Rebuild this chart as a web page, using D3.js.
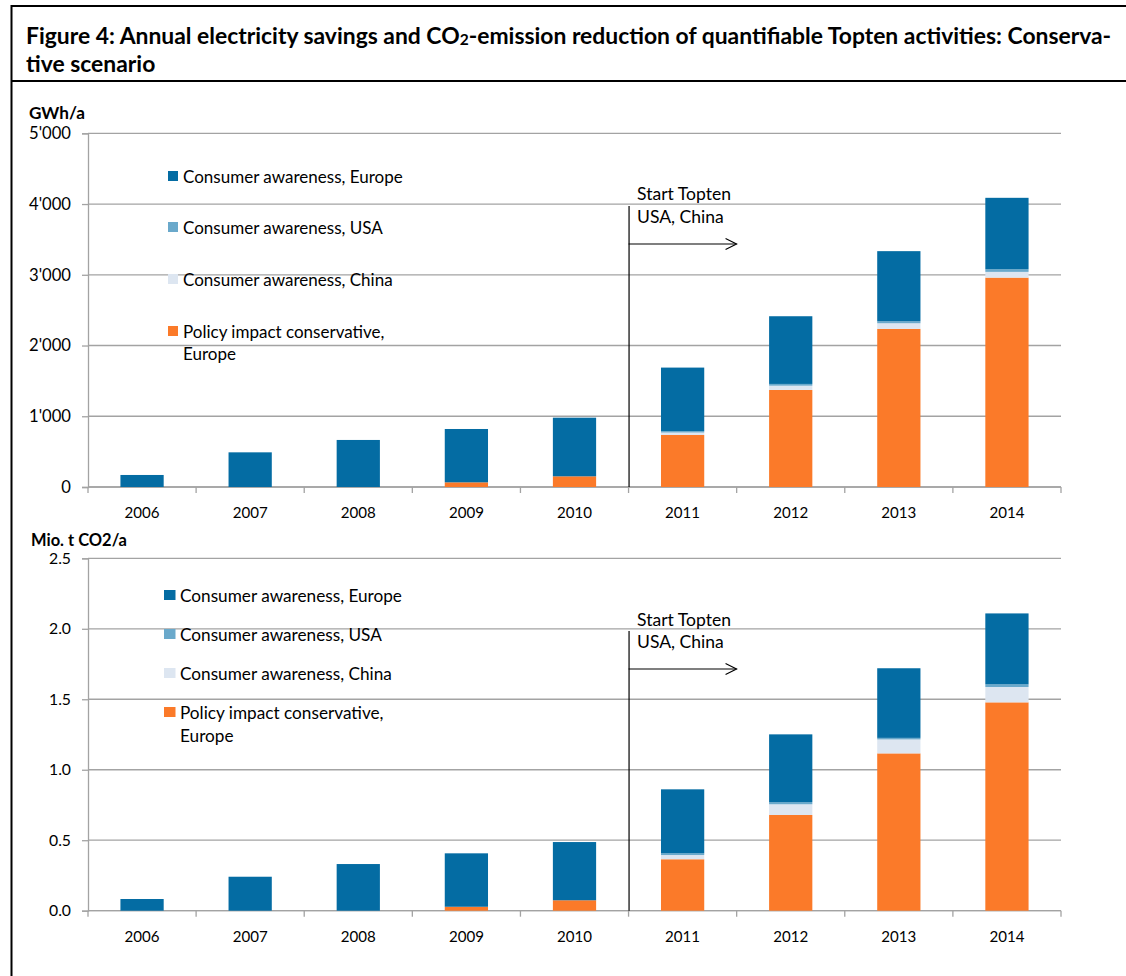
<!DOCTYPE html>
<html><head><meta charset="utf-8">
<script src="https://cdn.jsdelivr.net/npm/d3@7"></script>
<style>body{margin:0;background:#fff}svg{display:block}text{font-family:Lato,"Open Sans",sans-serif;fill:#000}</style>
</head><body>
<svg id="c" width="1126" height="976"></svg>
<script>
// ---------- DATA ----------
const years = ["2006","2007","2008","2009","2010","2011","2012","2013","2014"];
const seriesKeys = ["policy","china","usa","europe"];
const seriesNames = {
  europe: "Consumer awareness, Europe",
  usa: "Consumer awareness, USA",
  china: "Consumer awareness, China",
  policy: ["Policy impact conservative,", "Europe"]
};
const gwhPolicy  = [0, 0, 0, 66, 151, 735, 1372, 2235, 2960];
const gwhChina   = [0, 0, 0, 0, 0, 35, 60, 80, 81];
const gwhUSA     = [0, 0, 0, 0, 0, 20, 25, 28, 38];
const gwhEurope  = [170, 490, 665, 754, 829, 898, 957, 991, 1009];
const co2Policy  = [0, 0, 0, 0.028, 0.074, 0.365, 0.679, 1.116, 1.478];
const co2China   = [0, 0, 0, 0, 0, 0.030, 0.076, 0.099, 0.109];
const co2USA     = [0, 0, 0, 0, 0, 0.012, 0.016, 0.011, 0.019];
const co2Europe  = [0.083, 0.241, 0.331, 0.379, 0.413, 0.454, 0.480, 0.494, 0.503];
const gwhTicks = [0, 1000, 2000, 3000, 4000, 5000];
const co2Ticks = [0, 0.5, 1.0, 1.5, 2.0, 2.5];
const titleLine1 = ["Figure 4: Annual electricity savings and CO", "2", "-emission reduction of quantifiable Topten activities: Conserva-"];
const titleLine2 = "tive scenario";
const annotation = ["Start Topten", "USA, China"];
const startYear = "2011";

// ---------- STYLE ----------
const colors = {europe:"#046ca3", usa:"#6aa9cb", china:"#dde6f1", policy:"#fb7a29"};
const gridColor = "#a3a3a3";

const svg = d3.select("#c");
svg.append("rect").attr("width",1126).attr("height",976).attr("fill","#fff");

function fit(sel, target){
  const n = sel.node(); const fs = parseFloat(sel.attr("font-size"));
  const w = n.getComputedTextLength();
  return fs * target / w;
}

// frame
svg.append("line").attr("x1",11).attr("x2",1126).attr("y1",6).attr("y2",6).attr("stroke","#000").attr("stroke-width",2);
svg.append("line").attr("x1",11).attr("x2",1126).attr("y1",81).attr("y2",81).attr("stroke","#000").attr("stroke-width",2);
svg.append("line").attr("x1",11.5).attr("x2",11.5).attr("y1",5).attr("y2",976).attr("stroke","#000").attr("stroke-width",2);

// title
const t1 = svg.append("text").attr("x",26).attr("y",35).attr("dominant-baseline","central")
  .attr("font-weight","bold").attr("font-size",19);
t1.append("tspan").text(titleLine1[0]);
t1.append("tspan").attr("font-size",13).attr("dy",4).text(titleLine1[1]);
t1.append("tspan").attr("dy",-4).text(titleLine1[2]);
{
  const fs = fit(t1, 1086);
  t1.attr("font-size", fs); t1.select("tspan:nth-child(2)").attr("font-size", fs*0.68);
}
svg.append("text").attr("x",26).attr("y",63).attr("dominant-baseline","central")
  .attr("font-weight","bold").attr("font-size",+t1.attr("font-size")).text(titleLine2);

function drawChart(cfg){
  const x = d3.scaleBand().domain(years).range([88,1061]).paddingInner(0.6).paddingOuter(0.3);
  const y = d3.scaleLinear().domain([cfg.ticks[0], cfg.ticks[cfg.ticks.length-1]]).range([cfg.y0, cfg.yTop]);
  const g = svg.append("g");
  const step = x.step();

  // gridlines
  g.selectAll(".grid").data(cfg.ticks).join("line")
    .attr("x1",88).attr("x2",1061).attr("y1",d=>y(d)).attr("y2",d=>y(d))
    .attr("stroke",gridColor).attr("stroke-width",1.3);
  // y axis
  const yAx = g.append("g").attr("transform","translate(88,0)")
    .call(d3.axisLeft(y).tickValues(cfg.ticks).tickFormat(cfg.fmt).tickSize(6).tickPadding(11));
  yAx.select(".domain").attr("stroke",gridColor).attr("stroke-width",1.3);
  yAx.selectAll(".tick line").attr("stroke",gridColor).attr("stroke-width",1.3);
  yAx.selectAll("text").attr("font-family","Lato").attr("font-size",16).attr("fill","#000");
  {
    const fs = fit(yAx.select(".tick:last-of-type text"), cfg.tickLabelW);
    yAx.selectAll("text").attr("font-size", fs);
  }
  // x axis
  const xb = d3.range(years.length+1).map(i=>88+i*step);
  g.selectAll(".xt").data(xb).join("line")
    .attr("x1",d=>d).attr("x2",d=>d).attr("y1",cfg.y0).attr("y2",cfg.y0+6)
    .attr("stroke",gridColor).attr("stroke-width",1.3);
  g.append("line").attr("x1",88).attr("x2",1061).attr("y1",cfg.y0).attr("y2",cfg.y0)
    .attr("stroke",gridColor).attr("stroke-width",1.3);
  const yl = g.selectAll(".yl").data(years).join("text")
    .attr("x",d=>x(d)+x.bandwidth()/2).attr("y",cfg.y0+25).attr("text-anchor","middle")
    .attr("dominant-baseline","central").attr("font-size",16).text(d=>d);
  { const fs = fit(d3.select(yl.nodes()[0]), 35); yl.attr("font-size",fs); }

  // bars
  const rows = years.map((yr,i)=>({year:yr, policy:cfg.data.policy[i], china:cfg.data.china[i], usa:cfg.data.usa[i], europe:cfg.data.europe[i]}));
  const stacked = d3.stack().keys(seriesKeys)(rows);
  g.selectAll(".s").data(stacked).join("g").attr("fill",d=>colors[d.key])
    .selectAll("rect").data(d=>d).join("rect")
    .attr("x",d=>x(d.data.year)).attr("width",x.bandwidth())
    .attr("y",d=>y(d[1])).attr("height",d=>Math.max(0,y(d[0])-y(d[1])));

  // unit label
  const ul = g.append("text").attr("x",cfg.unitX).attr("y",cfg.unitY).attr("dominant-baseline","central")
    .attr("font-weight","bold").attr("font-size",15).text(cfg.unit);
  ul.attr("font-size", fit(ul, cfg.unitW));

  // legend
  const legOrder = ["europe","usa","china","policy"];
  const lg = g.append("g");
  let legFs = 15;
  legOrder.forEach((k,i)=>{
    const cy = cfg.legY[i];
    lg.append("rect").attr("x",cfg.legSqX).attr("y",cy-cfg.legSqH/2).attr("width",cfg.legSqW).attr("height",cfg.legSqH).attr("fill",colors[k]);
    const nm = seriesNames[k];
    const lines = Array.isArray(nm)?nm:[nm];
    lines.forEach((ln,j)=>{
      lg.append("text").attr("class","lt").attr("x",cfg.legTX).attr("y",cy + j*cfg.legLine)
        .attr("dominant-baseline","central").attr("font-size",legFs).text(ln);
    });
  });
  { const fs = fit(d3.select(lg.selectAll(".lt").nodes()[0]), cfg.legW); lg.selectAll(".lt").attr("font-size",fs); }

  // annotation
  const ax = x(startYear) - (step - x.bandwidth())/2;
  g.append("line").attr("x1",ax+0.5).attr("x2",ax+0.5).attr("y1",cfg.annTop).attr("y2",cfg.y0).attr("stroke","#000").attr("stroke-width",1.2);
  g.append("line").attr("x1",ax).attr("x2",ax+108).attr("y1",cfg.arrowY).attr("y2",cfg.arrowY).attr("stroke","#000").attr("stroke-width",1.2);
  g.append("path").attr("d",`M${ax+97},${cfg.arrowY-5.5}L${ax+108},${cfg.arrowY}L${ax+97},${cfg.arrowY+5.5}`)
    .attr("fill","none").attr("stroke","#000").attr("stroke-width",1.2);
  const at = annotation.map((s,i)=>g.append("text").attr("x",ax+8.5).attr("y",cfg.annY[i])
    .attr("dominant-baseline","central").attr("font-size",15).text(s));
  { const fs = fit(at[0], 94); at.forEach(t=>t.attr("font-size",fs)); }
}

const loc = d3.formatLocale({decimal:".", thousands:"'", grouping:[3], currency:["",""]});

drawChart({
  ticks:gwhTicks, fmt:loc.format(","), y0:487, yTop:133.3, tickLabelW:42,
  data:{policy:gwhPolicy, china:gwhChina, usa:gwhUSA, europe:gwhEurope},
  unit:"GWh/a", unitX:29, unitY:112.5, unitW:56,
  legY:[176,227,279,331], legSqX:168, legSqW:10, legSqH:10, legTX:183, legLine:22, legW:220,
  annTop:206, arrowY:244, annY:[193,216]
});
drawChart({
  ticks:co2Ticks, fmt:d3.format(".1f"), y0:910.7, yTop:558.3, tickLabelW:22,
  data:{policy:co2Policy, china:co2China, usa:co2USA, europe:co2Europe},
  unit:"Mio. t CO2/a", unitX:31, unitY:539.5, unitW:96,
  legY:[595,634,673,712], legSqX:164, legSqW:11.5, legSqH:10, legTX:180, legLine:23, legW:222,
  annTop:631, arrowY:669, annY:[619,641]
});
</script>
</body></html>
